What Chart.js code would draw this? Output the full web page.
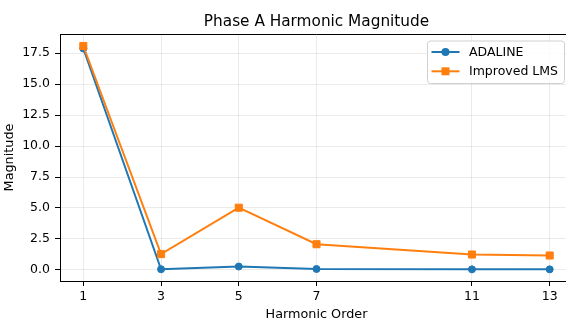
<!DOCTYPE html>
<html>
<head>
<meta charset="utf-8">
<script src="https://cdn.jsdelivr.net/npm/chart.js@4.4.1/dist/chart.umd.min.js"></script>
<style>
    html, body { margin: 0; padding: 0; background: #fff; overflow: hidden; }
    #wrap { width: 594px; height: 322px; position: relative; }
</style>
</head>
<body>
<div id="wrap"><canvas id="chart"></canvas></div>
<script>
// harmonic orders on the x axis
const harmonics = [1, 3, 5, 7, 11, 13];
// magnitudes
const adaline = [17.88, 0.05, 0.27, 0.07, 0.04, 0.04];
const improvedLms = [18.08, 1.27, 5.02, 2.07, 1.24, 1.16];
const yTicks = [0, 2.5, 5, 7.5, 10, 12.5, 15, 17.5];

const blue = "#1f77b4";
const orange = "#ff7f0e";
const font = "'DejaVu Sans', sans-serif";

function points(values) {
    return harmonics.map((h, i) => ({ x: h, y: values[i] }));
}

/* title, top spine and the legend box inside the plot */
const extras = {
    id: "extras",
    afterDraw(chart) {
        const ctx = chart.ctx;
        const area = chart.chartArea;
        ctx.save();

        ctx.strokeStyle = "#000";
        ctx.lineWidth = 1;
        ctx.beginPath();
        ctx.moveTo(area.left, area.top + 0.5);
        ctx.lineTo(area.right, area.top + 0.5);
        ctx.moveTo(area.right - 0.5, area.top);
        ctx.lineTo(area.right - 0.5, area.bottom);
        ctx.stroke();

        ctx.fillStyle = "#000";
        ctx.font = "15.3px " + font;
        ctx.textAlign = "center";
        ctx.textBaseline = "alphabetic";
        ctx.fillText("Phase A Harmonic Magnitude", (area.left + area.right) / 2, 26);

        // legend
        const bx = area.right - 145.5, by = area.top + 7, bw = 137, bh = 42.5;
        ctx.beginPath();
        ctx.roundRect(bx, by, bw, bh, 3);
        ctx.fillStyle = "rgba(255,255,255,0.85)";
        ctx.fill();
        ctx.strokeStyle = "#d0d0d0";
        ctx.stroke();

        const entries = [
            { label: "ADALINE", color: blue, style: "circle" },
            { label: "Improved LMS", color: orange, style: "rect" }
        ];
        entries.forEach((e, i) => {
            const y = by + 11 + i * 19.3;
            ctx.strokeStyle = e.color;
            ctx.lineWidth = 2;
            ctx.beginPath();
            ctx.moveTo(bx + 4, y);
            ctx.lineTo(bx + 32, y);
            ctx.stroke();
            ctx.fillStyle = e.color;
            if (e.style === "circle") {
                ctx.beginPath();
                ctx.arc(bx + 18, y, 4, 0, Math.PI * 2);
                ctx.fill();
            } else {
                ctx.fillRect(bx + 14, y - 4, 8, 8);
            }
            ctx.fillStyle = "#000";
            ctx.font = "12.5px " + font;
            ctx.textAlign = "left";
            ctx.textBaseline = "middle";
            ctx.fillText(e.label, bx + 41.5, y + 0.5);
        });
        ctx.restore();
    }
};

new Chart(document.getElementById("chart"), {
    type: "line",
    data: {
        datasets: [{
            label: "ADALINE",
            data: points(adaline),
            borderColor: blue,
            backgroundColor: blue,
            borderWidth: 2,
            pointStyle: "circle",
            pointRadius: 3.5,
            pointBorderWidth: 1,
            tension: 0,
            order: 1
        }, {
            label: "Improved LMS",
            data: points(improvedLms),
            borderColor: orange,
            backgroundColor: orange,
            borderWidth: 2,
            pointStyle: "rect",
            pointRadius: 5,
            pointBorderWidth: 1,
            tension: 0,
            order: 0
        }]
    },
    options: {
        responsive: true,
        maintainAspectRatio: false,
        animation: false,
        layout: {
            padding: { top: 34, right: 21, left: 0, bottom: 0 }
        },
        plugins: {
            legend: { display: false },
            title: { display: false },
            tooltip: { enabled: false }
        },
        scales: {
            x: {
                type: "linear",
                min: 0.4,
                max: 13.6,
                afterBuildTicks: (scale) => {
                    scale.ticks = harmonics.map(v => ({ value: v }));
                },
                afterFit: (scale) => { scale.height = 41; },
                ticks: {
                    color: "#000",
                    font: { family: font, size: 12.5 },
                    padding: 3,
                    maxRotation: 0,
                    autoSkip: false
                },
                grid: {
                    color: "rgba(0,0,0,0.08)",
                    tickColor: "#000",
                    tickLength: 5
                },
                border: { color: "#000", width: 1 },
                title: {
                    display: true,
                    text: "Harmonic Order",
                    color: "#000",
                    font: { family: font, size: 12.8 },
                    padding: 0
                }
            },
            y: {
                min: -0.9,
                max: 19.05,
                afterBuildTicks: (scale) => {
                    scale.ticks = yTicks.map(v => ({ value: v }));
                },
                afterFit: (scale) => { scale.width = 60; },
                ticks: {
                    color: "#000",
                    font: { family: font, size: 12.5 },
                    padding: 5,
                    callback: (v) => v.toFixed(1)
                },
                grid: {
                    color: "rgba(0,0,0,0.08)",
                    tickColor: "#000",
                    tickLength: 5
                },
                border: { color: "#000", width: 1 },
                title: {
                    display: true,
                    text: "Magnitude",
                    color: "#000",
                    font: { family: font, size: 12.8 },
                    padding: { top: 2, bottom: 0 }
                }
            }
        }
    },
    plugins: [extras]
});
</script>
</body>
</html>
